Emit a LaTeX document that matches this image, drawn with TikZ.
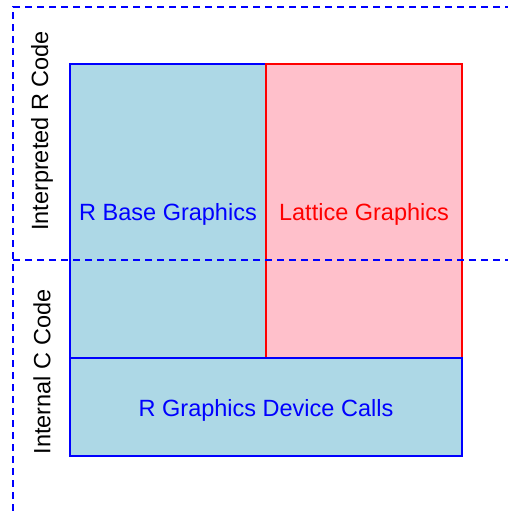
\documentclass[tikz,border=0pt]{standalone}
\usepackage{fontspec}
\setmainfont{Liberation Sans}
\begin{document}
\begin{tikzpicture}[x=1pt,y=1pt,
  boxb/.style={draw=blue,fill={rgb,255:red,173;green,216;blue,230},line width=1.5pt,inner sep=0pt},
  boxr/.style={draw=red,fill={rgb,255:red,255;green,192;blue,203},line width=1.5pt,inner sep=0pt},
  dline/.style={draw=blue,line width=1.5pt,dash pattern=on 7pt off 5pt},
  lab/.style={font=\fontsize{23.5}{26}\selectfont,inner sep=0pt}]
\useasboundingbox (0,0) rectangle (508,511);
% boxes
\node[boxb,minimum width=196pt,minimum height=294pt] (base) at (168,{511-211}) {};
\node[boxr,minimum width=196pt,minimum height=294pt] (lat) at (364,{511-211}) {};
\node[boxb,minimum width=392pt,minimum height=98pt] (dev) at (266,{511-407}) {};
\node[lab,text=blue] (basel) at (168,{511-214}) {R Base Graphics};
\node[lab,text=red] (latl) at (364,{511-214}) {Lattice Graphics};
\node[lab,text=blue] (devl) at (266,{511-410}) {R Graphics Device Calls};
% side labels
\node[lab,rotate=90] (interp) at (42,{511-131}) {Interpreted R Code};
\node[lab,rotate=90] (intc) at (42,{511-372}) {Internal C Code};
% dashed frame
\coordinate (tl) at (13,{511-7});
\coordinate (tr) at (508,{511-7});
\coordinate (bl) at (13,0);
\coordinate (ml) at (13,{511-260});
\coordinate (mr) at (508,{511-260});
\draw[dline] (bl) -- (tl) -- (tr);
\draw[dline] (ml) -- (mr);
\end{tikzpicture}
\end{document}
